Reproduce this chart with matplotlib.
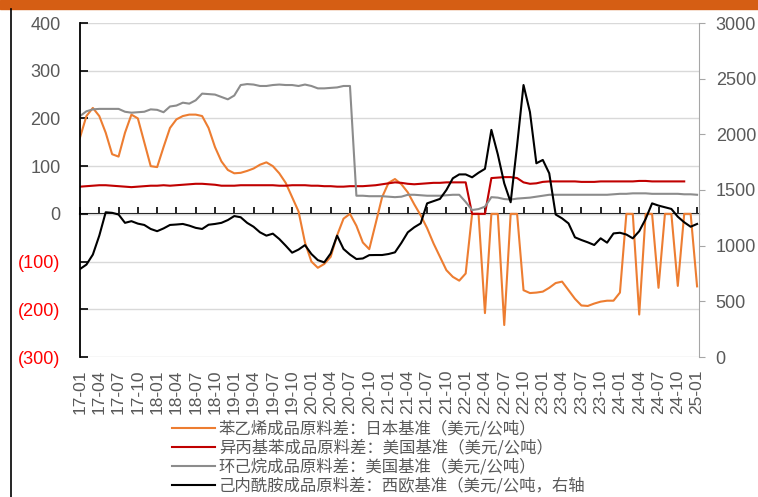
import matplotlib
matplotlib.use("Agg")
import matplotlib.pyplot as plt
import numpy as np

# months 2017-01 .. 2025-01
months = [f"{y % 100:02d}-{m:02d}" for y in range(2017, 2026) for m in range(1, 13)][:97]

styrene_jp = [160, 205, 222, 205, 170, 125, 120, 170, 208, 200,
              150, 100, 98, 140, 180, 198, 205, 208, 208, 205,
              180, 140, 110, 92, 85, 86, 90, 95, 103, 108,
              100, 85, 65, 35, 5, -60, -100, -113, -105, -90,
              -45, -10, 0, -25, -60, -74, -20, 35, 65, 73,
              62, 45, 20, -3, -30, -62, -90, -118, -132, -140,
              -125, 0, 0, -208, 0, 0, -233, 0, 0, -160,
              -166, -165, -163, -155, -145, -142, -160, -178, -192, -193,
              -188, -184, -182, -182, -165, 0, 0, -211, 0, 0,
              -155, 0, 0, -151, 0, 0, -152]

cumene_us = [57, 58, 59, 60, 60, 59, 58, 57, 56, 57,
             58, 59, 59, 60, 59, 60, 61, 62, 63, 63,
             62, 61, 59, 59, 59, 60, 60, 60, 60, 60,
             60, 59, 59, 60, 60, 60, 59, 59, 58, 58,
             57, 57, 58, 58, 58, 59, 60, 62, 64, 66,
             65, 63, 62, 63, 64, 65, 65, 66, 66, 66,
             66, 0, 0, 0, 75, 76, 77, 77, 75, 66,
             63, 64, 67, 68, 68, 68, 68, 68, 67, 67,
             67, 68, 68, 68, 68, 68, 68, 69, 69, 68,
             68, 68, 68, 68, 68, np.nan, np.nan]

cyclohexane_us = [205, 215, 219, 220, 220, 220, 220, 214, 212, 213,
                  214, 219, 218, 213, 225, 227, 233, 231, 238, 252,
                  251, 250, 245, 240, 248, 270, 272, 271, 268, 268,
                  270, 271, 270, 270, 268, 271, 268, 263, 263, 264,
                  265, 268, 268, 38, 38, 37, 37, 37, 36, 35,
                  36, 40, 40, 39, 38, 38, 38, 39, 40, 40,
                  25, 8, 10, 15, 35, 34, 31, 30, 32, 33,
                  34, 36, 38, 40, 40, 40, 40, 40, 40, 40,
                  40, 40, 40, 41, 42, 42, 43, 43, 43, 42,
                  42, 42, 42, 42, 41, 41, 40]

caprolactam_we = [790, 830, 920, 1090, 1300, 1295, 1280, 1205, 1220, 1198,
                  1186, 1150, 1130, 1155, 1186, 1190, 1195, 1180, 1160, 1150,
                  1188, 1195, 1205, 1230, 1266, 1255, 1205, 1170, 1120, 1090,
                  1108, 1060, 1000, 937, 965, 1005, 925, 870, 850, 930,
                  1090, 970, 920, 880, 885, 915, 916, 916, 925, 940,
                  1025, 1120, 1165, 1200, 1380, 1400, 1420, 1500, 1605, 1640,
                  1640, 1614, 1655, 1690, 2040, 1820, 1560, 1390, 1900, 2443,
                  2200, 1740, 1770, 1650, 1280, 1245, 1200, 1075, 1051, 1030,
                  1006, 1066, 1027, 1110, 1116, 1100, 1066, 1130, 1240, 1380,
                  1360, 1345, 1330, 1260, 1210, 1170, 1195]

labels = ["苯乙烯成品原料差：日本基准（美元/公吨）",
          "异丙基苯成品原料差：美国基准（美元/公吨）",
          "环己烷成品原料差：美国基准（美元/公吨）",
          "己内酰胺成品原料差：西欧基准（美元/公吨，右轴"]

left_ticks = [-300, -200, -100, 0, 100, 200, 300, 400]
right_ticks = [0, 500, 1000, 1500, 2000, 2500, 3000]

plt.rcParams['font.family'] = ['Liberation Sans', 'DejaVu Sans']
gray_txt = '#595959'

x = np.arange(len(months))

fig = plt.figure(figsize=(7.58, 4.97), dpi=100)
ax = fig.add_axes([80/758, 1-357/497, 619/758, 334/497])

# orange strip on top and left frame line
fig.patches.append(plt.Rectangle((0, 1-9/497), 1, 9/497, transform=fig.transFigure,
                                 color='#D55E14', zorder=0))
fig.add_artist(plt.Line2D([11/758, 11/758], [0, 1-9/497], transform=fig.transFigure,
                          color='black', lw=1.2))

l1, = ax.plot(x, styrene_jp, color='#ED7D31', lw=1.5)
l2, = ax.plot(x, cumene_us, color='#C00000', lw=1.5)
l3, = ax.plot(x, cyclohexane_us, color='#8C8C8C', lw=1.5)

ax.set_ylim(-300, 400)
ax.set_xlim(0, 96.3)
ax.set_yticks(left_ticks)
ax.set_yticklabels([f"({-v})" if v < 0 else str(v) for v in left_ticks])
for t, v in zip(ax.get_yticklabels(), left_ticks):
    t.set_color('#FF0000' if v < 0 else gray_txt)
ax.yaxis.grid(True, color='#D9D9D9', lw=1)
ax.set_axisbelow(True)
ax.tick_params(axis='y', direction='in', length=6, width=1.2, color='black',
               labelsize=13, pad=14)
ax.spines['left'].set_linewidth(1.3)
for s in ['top', 'right', 'bottom']:
    ax.spines[s].set_visible(False)

ax.set_xticks(x[::3])
ax.set_xticklabels(months[::3], rotation=90, color=gray_txt, fontsize=12.5)
ax.tick_params(axis='x', length=0, pad=9)

# category axis drawn at the zero line (zero sits 3/7 up the left axis)
zax = ax.secondary_xaxis(3/7)
zax.set_xticks(x[::3])
zax.set_xticklabels([])
zax.tick_params(direction='in', length=5, width=1.2, color='black')
zax.spines['bottom'].set_linewidth(1.5)

ax2 = ax.twinx()
l4, = ax2.plot(x, caprolactam_we, color='black', lw=1.5)
ax2.set_ylim(0, 3000)
ax2.set_yticks(right_ticks)
ax2.tick_params(axis='y', direction='out', length=4, color='#A6A6A6',
                labelcolor=gray_txt, labelsize=13, pad=8)
ax2.spines['right'].set_color('#A6A6A6')
for s in ['top', 'left', 'bottom']:
    ax2.spines[s].set_visible(False)

leg = fig.legend([l1, l2, l3, l4], labels, loc='upper left',
                 bbox_to_anchor=(172/758, 1-421/497), frameon=False,
                 handlelength=2.6, handletextpad=0.25, labelspacing=0.12,
                 borderpad=0, borderaxespad=0,
                 prop={'family': ['Noto Sans CJK SC', 'DejaVu Sans'], 'size': 11.8})
for t in leg.get_texts():
    t.set_color(gray_txt)

fig.savefig('out.png', dpi=100)
